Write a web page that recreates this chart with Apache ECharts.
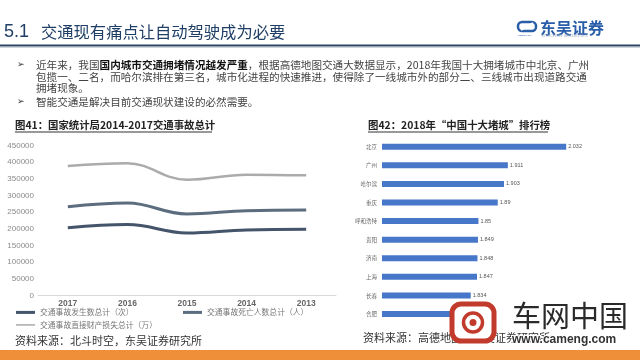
<!DOCTYPE html>
<html><head><meta charset="utf-8">
<script src="https://cdn.jsdelivr.net/npm/echarts@6/dist/echarts.min.js"></script>
<style>html,body{margin:0;padding:0;background:#fff}#c{width:640px;height:360px}</style>
</head><body><div id="c"></div>
<script>
// ---- data ----
const years = ['2017', '2016', '2015', '2014', '2013'];
const accidents = [203049, 212846, 187781, 196812, 198394];
const deaths = [266400, 277500, 244500, 254500, 256500];
const losses = [388500, 396500, 347400, 362500, 360500];
const lineNames = ['交通事故发生数总计（次）', '交通事故死亡人数总计（人）', '交通事故直接财产损失总计（万）'];
const yMin = 0, yMax = 450000, yStep = 50000;

const cities = ['北京', '广州', '哈尔滨', '重庆', '呼和浩特', '贵阳', '济南', '上海', '长春', '合肥'];
const congestion = [2.032, 1.911, 1.903, 1.89, 1.85, 1.849, 1.848, 1.847, 1.834, 1.83];

const pageTitleNum = '5.1';
const pageTitle = '交通现有痛点让自动驾驶成为必要';
const chart1Title = '图41：国家统计局2014-2017交通事故总计';
const chart2Title = '图42：2018年“中国十大堵城”排行榜';
const source1 = '资料来源：北斗时空，东吴证券研究所';
const source2 = '资料来源：高德地图，东吴证券研究所';

// ---- chart ----
const CJK = '"Noto Sans CJK SC", sans-serif';
const SANS = '"Liberation Sans", Arial, sans-serif';
const chart = echarts.init(document.getElementById('c'), null, {renderer: 'canvas'});

function txt(x, y, text, font, fill, extra) {
  return Object.assign({type: 'text', x: x, y: y, z: 10,
    style: Object.assign({text: text, font: font, fill: fill, verticalAlign: 'middle', align: 'left'}, extra || {})});
}

const graphics = [
  txt(4, 32, pageTitleNum, '18px ' + SANS, '#1f3f66'),
  txt(41, 32, pageTitle, '16.3px ' + CJK, '#1f3f66'),
  // logo
  {type: 'rect', x: 518, y: 22, z: 10, shape: {width: 18, height: 9, r: 4}, style: {fill: 'none', stroke: '#2b5ea8', lineWidth: 2.5}},
  {type: 'line', z: 11, shape: {x1: 521, y1: 30, x2: 533, y2: 23}, style: {stroke: '#fff', lineWidth: 2}},
  txt(518, 35.5, 'SOOCHOW', '2.5px ' + SANS, '#2b5ea8'),
  txt(540, 28, '东吴证券', 'bold 16px ' + CJK, '#2b5ea8'),
  txt(541, 36, 'SOOCHOW SECURITIES', '4px ' + SANS, '#9aaac0'),
  // rule under title
  {type: 'line', z: 10, shape: {x1: 0, y1: 45.5, x2: 640, y2: 45.5}, style: {stroke: '#2e4566', lineWidth: 2}},
  {type: 'line', z: 10, shape: {x1: 0, y1: 47.5, x2: 640, y2: 47.5}, style: {stroke: '#d0d6de', lineWidth: 1}},
  // bullets
  txt(17, 65, '➢', '9px "DejaVu Sans"', '#333'),
  txt(17, 102, '➢', '9px "DejaVu Sans"', '#333'),
  {type: 'text', x: 36, y: 65, z: 10, style: {
    text: '{n|近年来，我国}{b|国内城市交通拥堵情况越发严重}{n|，根据高德地图交通大数据显示，2018年我国十大拥堵城市中北京、广州}',
    verticalAlign: 'middle',
    rich: {n: {font: '10.6px ' + CJK, fill: '#444'}, b: {font: 'bold 10.6px ' + CJK, fill: '#111'}}}},
  txt(36, 76.7, '包揽一、二名，而哈尔滨排在第三名，城市化进程的快速推进，使得除了一线城市外的部分二、三线城市出现道路交通', '10.6px ' + CJK, '#444'),
  txt(36, 88.2, '拥堵现象。', '10.6px ' + CJK, '#444'),
  txt(36, 102, '智能交通是解决目前交通现状建设的必然需要。', '10.6px ' + CJK, '#444'),
  // chart titles
  txt(15, 125.5, chart1Title, 'bold 10.4px ' + CJK, '#222'),
  {type: 'line', z: 10, shape: {x1: 15, y1: 132, x2: 212, y2: 132}, style: {stroke: '#333', lineWidth: 1}},
  txt(368, 125.5, chart2Title, 'bold 10.4px ' + CJK, '#222'),
  {type: 'line', z: 10, shape: {x1: 368, y1: 132, x2: 548, y2: 132}, style: {stroke: '#333', lineWidth: 1}},
  // sources
  txt(15, 341, source1, '11px ' + CJK, '#333'),
  txt(363, 338, source2, '11px ' + CJK, '#333'),
  // footer bar
  {type: 'rect', x: 0, y: 350, z: 9, shape: {width: 640, height: 10}, style: {fill: '#ef8f39'}},
  // watermark
  {type: 'rect', x: 452, y: 304, z: 20, shape: {width: 42, height: 37, r: 9}, style: {fill: '#fff', stroke: '#c23a2c', lineWidth: 5}},
  {type: 'circle', x: 473, y: 322.5, z: 21, shape: {r: 9.5}, style: {fill: 'none', stroke: '#c23a2c', lineWidth: 3.5}},
  {type: 'circle', x: 473, y: 322.5, z: 21, shape: {r: 3.5}, style: {fill: '#c23a2c'}},
  txt(512, 316, '车网中国', '29px ' + CJK, '#2a2a2a', {}),
  txt(512, 340, 'www.cameng.com', 'bold 12px ' + SANS, '#333', {stroke: '#fff', lineWidth: 2})
];
graphics[graphics.length - 2].z = 22;
graphics[graphics.length - 1].z = 22;

const legendCommon = {orient: 'horizontal', padding: 0, itemWidth: 19, icon: 'rect',
  textStyle: {fontSize: 7.8, color: '#777', fontFamily: CJK}};

const option = {
  animation: false,
  backgroundColor: '#fff',
  grid: [
    {left: 38, right: 304, top: 145.5, bottom: 64.5},
    {left: 382, right: 41, top: 137.4, bottom: 36.7}
  ],
  legend: [
    Object.assign({}, legendCommon, {left: 16, top: 308.5, itemHeight: 3, data: [lineNames[0]]}),
    Object.assign({}, legendCommon, {left: 183, top: 308.5, itemHeight: 3, data: [lineNames[1]]}),
    Object.assign({}, legendCommon, {left: 16, top: 321, itemHeight: 1.5, data: [lineNames[2]]})
  ],
  xAxis: [
    {type: 'category', gridIndex: 0, data: years, boundaryGap: true,
      axisLine: {lineStyle: {color: '#d9d9d9', width: 1}}, axisTick: {show: false},
      axisLabel: {fontSize: 8.5, color: '#666', fontFamily: SANS, fontWeight: 'bold', margin: 4}},
    {type: 'value', gridIndex: 1, min: 1.65, max: 2.1, show: false}
  ],
  yAxis: [
    {type: 'value', gridIndex: 0, min: yMin, max: yMax, interval: yStep,
      axisLine: {show: false}, axisTick: {show: false}, splitLine: {show: false},
      axisLabel: {fontSize: 8, color: '#8a8a8a', fontFamily: SANS, margin: 4, formatter: v => String(v)}},
    {type: 'category', gridIndex: 1, data: cities, inverse: true,
      axisLine: {show: false}, axisTick: {show: false},
      axisLabel: {fontSize: 5.5, color: '#666', fontFamily: CJK, margin: 5}}
  ],
  series: [
    {name: lineNames[0], type: 'line', xAxisIndex: 0, yAxisIndex: 0, data: accidents, smooth: 0.4,
      symbol: 'none', lineStyle: {width: 3, color: '#44546a'}, itemStyle: {color: '#44546a'}},
    {name: lineNames[1], type: 'line', xAxisIndex: 0, yAxisIndex: 0, data: deaths, smooth: 0.4,
      symbol: 'none', lineStyle: {width: 3, color: '#5b6d7e'}, itemStyle: {color: '#5b6d7e'}},
    {name: lineNames[2], type: 'line', xAxisIndex: 0, yAxisIndex: 0, data: losses, smooth: 0.4,
      symbol: 'none', lineStyle: {width: 2.5, color: '#ababab'}, itemStyle: {color: '#ababab'}},
    {type: 'bar', xAxisIndex: 1, yAxisIndex: 1, data: congestion, barWidth: 6,
      itemStyle: {color: '#4677c8'},
      label: {show: true, position: 'right', distance: 2, fontSize: 5.5, color: '#555', fontFamily: SANS}}
  ],
  graphic: graphics
};
chart.setOption(option);
</script>
</body></html>
